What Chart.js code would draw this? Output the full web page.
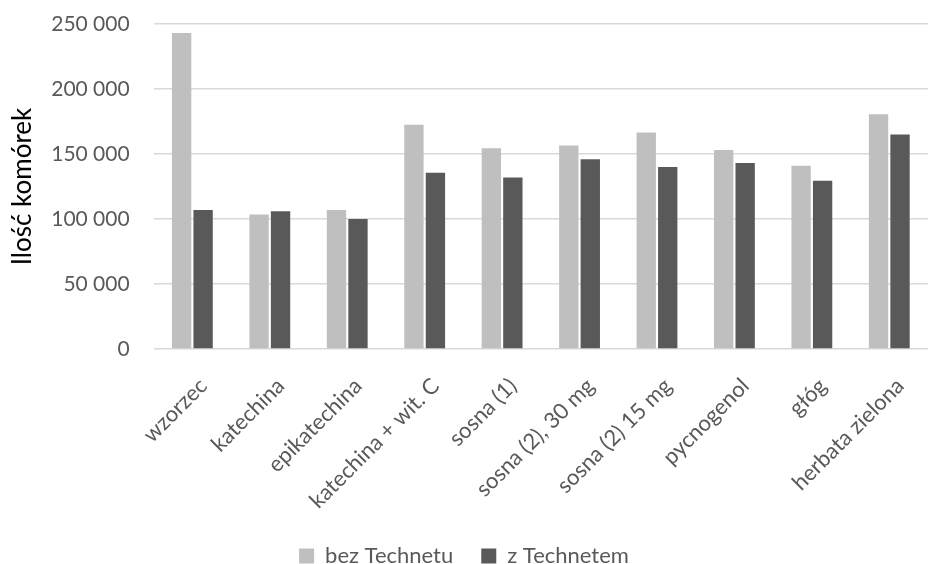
<!DOCTYPE html>
<html>
<head>
<meta charset="utf-8">
<script src="https://cdn.jsdelivr.net/npm/chart.js@4/dist/chart.umd.min.js"></script>
<style>
  html, body { margin: 0; padding: 0; background: #fff; }
  #wrap { width: 929px; height: 564px; }
</style>
</head>
<body>
<div id="wrap"><canvas id="c"></canvas></div>
<script>
const categories = ['wzorzec', 'katechina', 'epikatechina', 'katechina + wit. C', 'sosna (1)',
  'sosna (2), 30 mg', 'sosna (2) 15 mg', 'pycnogenol', 'głóg', 'herbata zielona'];
const bezTechnetu = [243000, 103500, 107000, 172500, 154500, 156500, 166500, 153000, 141000, 180500];
const zTechnetem = [107000, 106000, 100000, 135500, 132000, 146000, 140000, 143000, 129500, 165000];
const yTicks = [0, 50000, 100000, 150000, 200000, 250000];

const fontFamily = 'Lato, "Open Sans", sans-serif';
const fmt = v => String(v).replace(/\B(?=(\d{3})+(?!\d))/g, ' ');

new Chart(document.getElementById('c'), {
  type: 'bar',
  data: {
    labels: categories,
    datasets: [
      { label: 'bez Technetu', data: bezTechnetu, backgroundColor: '#bfbfbf' },
      { label: 'z Technetem', data: zTechnetem, backgroundColor: '#595959' }
    ]
  },
  options: {
    responsive: true,
    maintainAspectRatio: false,
    animation: false,
    devicePixelRatio: 1,
    categoryPercentage: 0.555,
    barPercentage: 0.9,
    layout: { padding: { left: 0, right: 1, top: 24, bottom: -13 } },
    plugins: {
      legend: {
        position: 'bottom',
        labels: {
          font: { family: fontFamily, size: 22 },
          color: '#595959',
          boxWidth: 15,
          boxHeight: 15,
          padding: 28
        }
      },
      tooltip: { enabled: false }
    },
    scales: {
      x: {
        grid: { display: false, drawTicks: false },
        border: { display: false },
        afterFit: s => {
          s.paddingLeft = 0; s.paddingRight = 0; s.paddingTop = 0; s.paddingBottom = 0;
          s.height = 168;
        },
        ticks: {
          font: { family: fontFamily, size: 22 },
          color: '#595959',
          minRotation: 45,
          maxRotation: 45,
          padding: 24,
          labelOffset: 11
        }
      },
      y: {
        min: 0,
        max: 250000,
        afterBuildTicks: axis => { axis.ticks = yTicks.map(v => ({ value: v })); },
        afterFit: s => { s.paddingTop = 0; s.paddingBottom = 0; },
        grid: { color: '#d9d9d9', lineWidth: 1.5, drawTicks: false },
        border: { display: false },
        ticks: {
          font: { family: fontFamily, size: 21 },
          color: '#595959',
          padding: 24,
          callback: v => fmt(v)
        },
        title: {
          display: true,
          text: 'Ilość komórek',
          font: { family: fontFamily, size: 26 },
          color: '#000',
          padding: { top: 7, bottom: -11 }
        }
      }
    }
  }
});
</script>
</body>
</html>
